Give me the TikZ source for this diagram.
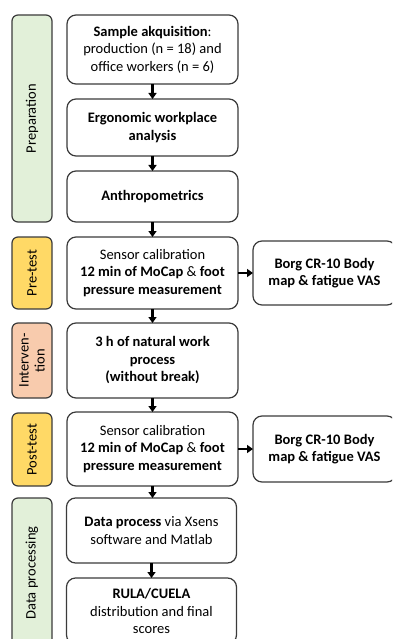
\documentclass[tikz,border=0pt]{standalone}
\usepackage{fontspec}
\setmainfont{Carlito}
\usetikzlibrary{arrows.meta,positioning}
\definecolor{PhaseGreen}{HTML}{E2F0D9}
\definecolor{PhaseYellow}{HTML}{FFD966}
\definecolor{PhaseSalmon}{HTML}{F8CBAD}
\definecolor{StepLine}{HTML}{3B3B3B}
\tikzset{
  study step/.style={
    draw=StepLine,
    fill=white,
    line width=1.2pt,
    rounded corners=9pt,
    align=center,
    minimum width=171pt,
    inner sep=2pt,
    outer sep=0pt,
    font=\fontsize{14.5}{17.5}\selectfont
  },
  study phase/.style={
    draw=StepLine,
    line width=1.2pt,
    rounded corners=6pt,
    rotate=90,
    align=center,
    minimum height=40pt,
    inner sep=1pt,
    font=\fontsize{14.5}{16}\selectfont
  },
  study flow/.style={-{Triangle[width=8pt,length=6pt]},draw=black,line width=2.2pt}
}

\begin{document}
\begin{tikzpicture}[x=1pt,y=1pt]
  \clip (0,0) rectangle (392,-639);
  \fill[white] (0,0) rectangle (392,-639);

  % main column
  \node[study step,minimum height=69pt] (acq) at (152.5,-49.5) {\textbf{Sample akquisition}:\\production (n = 18) and\\office workers (n = 6)};
  \node[study step,minimum height=57pt,below=15pt of acq] (ergo) {\textbf{Ergonomic workplace}\\\textbf{analysis}};
  \node[study step,minimum height=51pt,below=15pt of ergo] (anthro) {\textbf{Anthropometrics}};
  \node[study step,minimum height=72pt,below=15pt of anthro] (pre) {Sensor calibration\\\textbf{12 min of MoCap} \& \textbf{foot}\\\textbf{pressure measurement}};
  \node[study step,minimum height=75pt,below=14pt of pre] (work) {\textbf{3 h of natural work}\\\textbf{process}\\\textbf{(without break)}};
  \node[study step,minimum height=74pt,below=14pt of work] (post) {Sensor calibration\\\textbf{12 min of MoCap} \& \textbf{foot}\\\textbf{pressure measurement}};
  \node[study step,minimum width=170pt,minimum height=65pt,below=12pt of post,xshift=-1pt] (proc) {\textbf{Data process} via Xsens\\software and Matlab};
  \node[study step,minimum width=170pt,minimum height=66pt,below=15pt of proc] (scores) {\textbf{RULA/CUELA}\\distribution and final\\scores};

  % questionnaires
  \node[study step,minimum width=143pt,minimum height=64pt,right=15pt of pre] (borgpre) {\textbf{Borg CR-10 Body}\\\textbf{map \& fatigue VAS}};
  \node[study step,minimum width=143pt,minimum height=66pt,right=15pt of post] (borgpost) {\textbf{Borg CR-10 Body}\\\textbf{map \& fatigue VAS}};

  % phases
  \node[study phase,fill=PhaseGreen,minimum width=207pt] (prep) at (32,-118.5) {Preparation};
  \node[study phase,fill=PhaseYellow,minimum width=72pt] (pretest) at (32,-273) {Pre-test};
  \node[study phase,fill=PhaseSalmon,minimum width=75pt] (interv) at (32,-360.5) {Interven-\\tion};
  \node[study phase,fill=PhaseYellow,minimum width=73pt] (posttest) at (32,-449.5) {Post-test};
  \node[study phase,fill=PhaseGreen,minimum width=150pt] (dataproc) at (32,-573) {Data processing};

  \draw[study flow] (acq) -- (ergo);
  \draw[study flow] (ergo) -- (anthro);
  \draw[study flow] (anthro) -- (pre);
  \draw[study flow] (pre) -- (work);
  \draw[study flow] (work) -- (post);
  \draw[study flow] (post.south) -- (post.south |- proc.north);
  \draw[study flow] (proc) -- (scores);
  \draw[study flow] (pre) -- (borgpre);
  \draw[study flow] (post) -- (borgpost);
\end{tikzpicture}
\end{document}
